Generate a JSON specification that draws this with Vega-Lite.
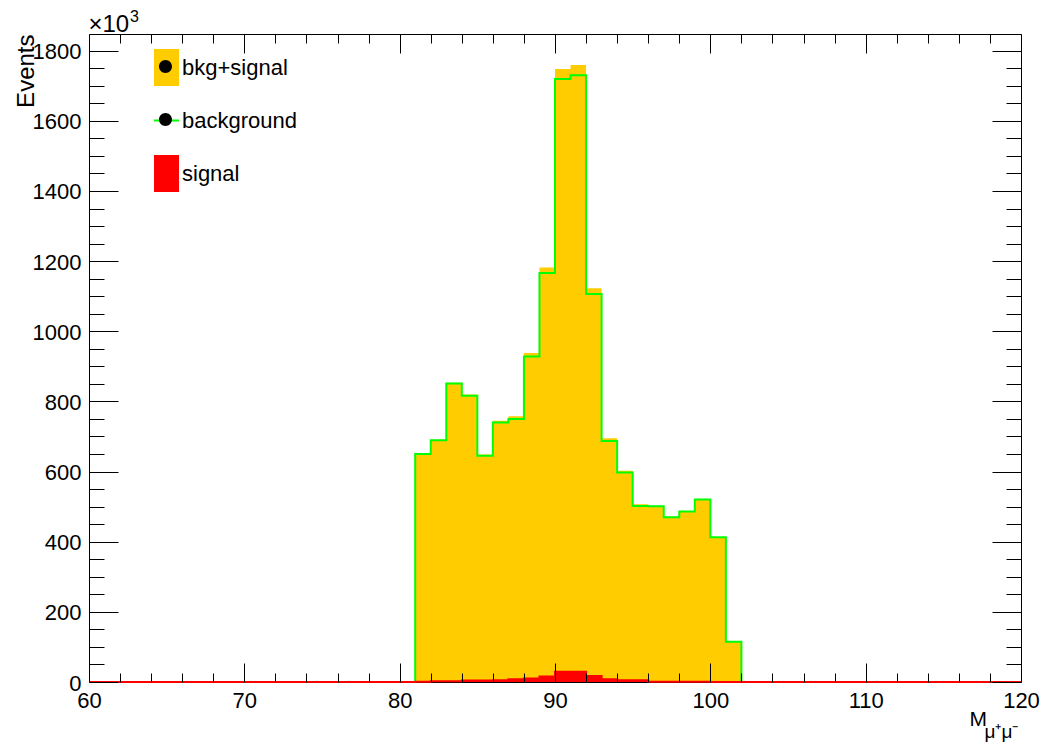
{
  "$schema": "https://vega.github.io/schema/vega-lite/v6.json",
  "width": 932,
  "height": 648,
  "autosize": {"type": "none"},
  "padding": {"left": 89, "top": 34, "right": 22, "bottom": 62},
  "background": "white",
  "config": {"view": {"stroke": "black", "strokeWidth": 1}, "font": "Liberation Sans"},
  "title": {"text": "3", "anchor": "start", "frame": "group", "orient": "top", "fontSize": 16, "font": "Liberation Sans", "fontWeight": "normal", "color": "black", "dx": 41, "dy": 26, "offset": 0, "baseline": "alphabetic"},
  "datasets": {
    "hist": [
      {"lo": 60, "bkg": 0, "sig": 0, "tot": 0}, {"lo": 61, "bkg": 0, "sig": 0, "tot": 0}, {"lo": 62, "bkg": 0, "sig": 0, "tot": 0}, {"lo": 63, "bkg": 0, "sig": 0, "tot": 0}, {"lo": 64, "bkg": 0, "sig": 0, "tot": 0},
      {"lo": 65, "bkg": 0, "sig": 0, "tot": 0}, {"lo": 66, "bkg": 0, "sig": 0, "tot": 0}, {"lo": 67, "bkg": 0, "sig": 0, "tot": 0}, {"lo": 68, "bkg": 0, "sig": 0, "tot": 0}, {"lo": 69, "bkg": 0, "sig": 0, "tot": 0},
      {"lo": 70, "bkg": 0, "sig": 0, "tot": 0}, {"lo": 71, "bkg": 0, "sig": 0, "tot": 0}, {"lo": 72, "bkg": 0, "sig": 0, "tot": 0}, {"lo": 73, "bkg": 0, "sig": 0, "tot": 0}, {"lo": 74, "bkg": 0, "sig": 0, "tot": 0},
      {"lo": 75, "bkg": 0, "sig": 0, "tot": 0}, {"lo": 76, "bkg": 0, "sig": 0, "tot": 0}, {"lo": 77, "bkg": 0, "sig": 0, "tot": 0}, {"lo": 78, "bkg": 0, "sig": 0, "tot": 0}, {"lo": 79, "bkg": 0, "sig": 0, "tot": 0},
      {"lo": 80, "bkg": 0, "sig": 0, "tot": 0},
      {"lo": 81, "bkg": 650, "sig": 1, "tot": 651},
      {"lo": 82, "bkg": 689, "sig": 2, "tot": 691},
      {"lo": 83, "bkg": 851, "sig": 2, "tot": 853},
      {"lo": 84, "bkg": 816, "sig": 4, "tot": 820},
      {"lo": 85, "bkg": 645, "sig": 4, "tot": 649},
      {"lo": 86, "bkg": 740, "sig": 5, "tot": 745},
      {"lo": 87, "bkg": 750, "sig": 8, "tot": 758},
      {"lo": 88, "bkg": 928, "sig": 10, "tot": 938},
      {"lo": 89, "bkg": 1166, "sig": 16, "tot": 1182},
      {"lo": 90, "bkg": 1719, "sig": 29, "tot": 1748},
      {"lo": 91, "bkg": 1730, "sig": 29, "tot": 1759},
      {"lo": 92, "bkg": 1106, "sig": 17, "tot": 1123},
      {"lo": 93, "bkg": 687, "sig": 8, "tot": 695},
      {"lo": 94, "bkg": 597, "sig": 5, "tot": 602},
      {"lo": 95, "bkg": 502, "sig": 5, "tot": 507},
      {"lo": 96, "bkg": 501, "sig": 1, "tot": 502},
      {"lo": 97, "bkg": 470, "sig": 1, "tot": 471},
      {"lo": 98, "bkg": 486, "sig": 1, "tot": 487},
      {"lo": 99, "bkg": 520, "sig": 1, "tot": 521},
      {"lo": 100, "bkg": 413, "sig": 0, "tot": 413},
      {"lo": 101, "bkg": 115, "sig": 0, "tot": 115},
      {"lo": 102, "bkg": 0, "sig": 0, "tot": 0}, {"lo": 103, "bkg": 0, "sig": 0, "tot": 0}, {"lo": 104, "bkg": 0, "sig": 0, "tot": 0}, {"lo": 105, "bkg": 0, "sig": 0, "tot": 0},
      {"lo": 106, "bkg": 0, "sig": 0, "tot": 0}, {"lo": 107, "bkg": 0, "sig": 0, "tot": 0}, {"lo": 108, "bkg": 0, "sig": 0, "tot": 0}, {"lo": 109, "bkg": 0, "sig": 0, "tot": 0},
      {"lo": 110, "bkg": 0, "sig": 0, "tot": 0}, {"lo": 111, "bkg": 0, "sig": 0, "tot": 0}, {"lo": 112, "bkg": 0, "sig": 0, "tot": 0}, {"lo": 113, "bkg": 0, "sig": 0, "tot": 0},
      {"lo": 114, "bkg": 0, "sig": 0, "tot": 0}, {"lo": 115, "bkg": 0, "sig": 0, "tot": 0}, {"lo": 116, "bkg": 0, "sig": 0, "tot": 0}, {"lo": 117, "bkg": 0, "sig": 0, "tot": 0},
      {"lo": 118, "bkg": 0, "sig": 0, "tot": 0}, {"lo": 119, "bkg": 0, "sig": 0, "tot": 0}, {"lo": 120, "bkg": 0, "sig": 0, "tot": 0}
    ],
    "leg": [{"series": "bkg+signal"}, {"series": "background"}, {"series": "signal"}],
    "dots": [{"dot": "p"}, {"dot": "q"}, {"dot": "r"}]
  },
  "resolve": {"axis": {"x": "independent", "y": "independent"}},
  "layer": [
    {
      "data": {"name": "hist"},
      "mark": {"type": "area", "interpolate": "step-after", "color": "#ffcc00", "opacity": 1},
      "encoding": {
        "x": {"field": "lo", "type": "quantitative", "scale": {"domain": [60, 120], "nice": false, "zero": false},
          "axis": {"orient": "bottom", "values": [60,62,64,66,68,70,72,74,76,78,80,82,84,86,88,90,92,94,96,98,100,102,104,106,108,110,112,114,116,118,120],
            "tickSize": {"condition": {"test": "datum.value % 10 === 0", "value": -19}, "value": -9},
            "tickColor": "black", "tickWidth": 1, "domain": false, "grid": false, "zindex": 1,
            "labelExpr": "datum.value % 10 === 0 ? datum.label : ''", "format": "d",
            "labelPadding": 27, "labelFontSize": 22, "labelFont": "Liberation Sans", "labelColor": "black",
            "labelFlush": false, "labelOverlap": false, "labelBound": false,
            "title": "M", "titleFont": "Liberation Sans", "titleFontSize": 21, "titleFontWeight": "normal", "titleColor": "black",
            "titleX": 880, "titleY": 43, "titleAlign": "left", "titleBaseline": "alphabetic", "titleAngle": 0}},
        "y": {"field": "tot", "type": "quantitative", "scale": {"domain": [0, 1847.6], "nice": false},
          "axis": {"orient": "left", "values": [0,50,100,150,200,250,300,350,400,450,500,550,600,650,700,750,800,850,900,950,1000,1050,1100,1150,1200,1250,1300,1350,1400,1450,1500,1550,1600,1650,1700,1750,1800],
            "tickSize": {"condition": {"test": "datum.value % 200 === 0", "value": -29}, "value": -15},
            "tickColor": "black", "tickWidth": 1, "domain": false, "grid": false, "zindex": 1,
            "labelExpr": "datum.value % 200 === 0 ? datum.label : ''", "format": "d",
            "labelPadding": 37, "labelFontSize": 22, "labelFont": "Liberation Sans", "labelColor": "black",
            "labelFlush": false, "labelOverlap": false, "labelBound": false, "labelOffset": 1,
            "title": "Events", "titleFont": "Liberation Sans", "titleFontSize": 24, "titleFontWeight": "normal", "titleColor": "black",
            "titleX": -56, "titleY": 0, "titleAngle": 270, "titleAlign": "right", "titleBaseline": "alphabetic"}}
      }
    },
    {
      "data": {"name": "hist"},
      "mark": {"type": "line", "interpolate": "step-after", "color": "#00ff00", "strokeWidth": 2},
      "encoding": {
        "x": {"field": "lo", "type": "quantitative", "scale": {"domain": [60, 120], "nice": false, "zero": false},
          "axis": {"orient": "top", "values": [60,62,64,66,68,70,72,74,76,78,80,82,84,86,88,90,92,94,96,98,100,102,104,106,108,110,112,114,116,118,120],
            "tickSize": {"condition": {"test": "datum.value % 10 === 0", "value": -19}, "value": -9},
            "tickColor": "black", "tickWidth": 1, "domain": false, "grid": false, "zindex": 1, "labels": false,
            "title": "μ⁺μ⁻", "titleFont": "Liberation Sans", "titleFontSize": 19, "titleFontWeight": "normal", "titleColor": "black",
            "titleX": 895, "titleY": 703, "titleAlign": "left", "titleBaseline": "alphabetic", "titleAngle": 0}},
        "y": {"field": "bkg", "type": "quantitative", "scale": {"domain": [0, 1847.6], "nice": false},
          "axis": {"orient": "right", "values": [0,50,100,150,200,250,300,350,400,450,500,550,600,650,700,750,800,850,900,950,1000,1050,1100,1150,1200,1250,1300,1350,1400,1450,1500,1550,1600,1650,1700,1750,1800],
            "tickSize": {"condition": {"test": "datum.value % 200 === 0", "value": -29}, "value": -15},
            "tickColor": "black", "tickWidth": 1, "domain": false, "grid": false, "zindex": 1, "labels": false,
            "title": "×10", "titleFont": "Liberation Sans", "titleFontSize": 24, "titleFontWeight": "normal", "titleColor": "black",
            "titleX": -933, "titleY": -3, "titleAngle": 0, "titleAlign": "left", "titleBaseline": "alphabetic"}}
      }
    },
    {
      "data": {"name": "hist"},
      "mark": {"type": "area", "interpolate": "step-after", "color": "#ff0000", "opacity": 1},
      "encoding": {
        "x": {"field": "lo", "type": "quantitative", "scale": {"domain": [60, 120], "nice": false, "zero": false}, "axis": null},
        "y": {"field": "sig", "type": "quantitative", "scale": {"domain": [0, 1847.6], "nice": false}, "axis": null}
      }
    },
    {
      "data": {"name": "hist"},
      "mark": {"type": "line", "interpolate": "step-after", "color": "#ff0000", "strokeWidth": 2},
      "encoding": {
        "x": {"field": "lo", "type": "quantitative", "scale": {"domain": [60, 120], "nice": false, "zero": false}, "axis": null},
        "y": {"field": "sig", "type": "quantitative", "scale": {"domain": [0, 1847.6], "nice": false}, "axis": null}
      }
    },
    {
      "data": {"name": "leg"},
      "mark": {"type": "point", "filled": true, "clip": true, "size": 1369, "strokeWidth": 2, "opacity": 1},
      "encoding": {
        "x": {"datum": 0, "type": "quantitative", "scale": {"domain": [60, 120], "nice": false, "zero": false}, "axis": null},
        "y": {"datum": 0, "type": "quantitative", "scale": {"domain": [0, 1847.6], "nice": false}, "axis": null},
        "fill": {"field": "series", "type": "nominal",
          "scale": {"domain": ["bkg+signal", "background", "signal"], "range": ["#ffcc00", "rgba(0,0,0,0)", "#ff0000"]},
          "legend": {"title": null, "orient": "none", "legendX": 58, "legendY": 14, "padding": 0, "rowPadding": 8, "labelOffset": -4, "labelFont": "Liberation Sans", "labelFontSize": 22, "labelColor": "black", "symbolSize": 1369, "symbolStrokeWidth": 2, "direction": "vertical"}},
        "stroke": {"field": "series", "type": "nominal",
          "scale": {"domain": ["bkg+signal", "background", "signal"], "range": ["rgba(0,0,0,0)", "#00ff00", "rgba(0,0,0,0)"]},
          "legend": {"title": null, "orient": "none", "legendX": 58, "legendY": 14, "padding": 0, "rowPadding": 8, "labelOffset": -4, "labelFont": "Liberation Sans", "labelFontSize": 22, "labelColor": "black", "symbolSize": 1369, "symbolStrokeWidth": 2, "direction": "vertical"}},
        "shape": {"field": "series", "type": "nominal",
          "scale": {"domain": ["bkg+signal", "background", "signal"], "range": ["M-0.676,-1L0.676,-1L0.676,1L-0.676,1Z", "M-0.676,0L0.676,0M-0.676,-1L-0.676,-1M0.676,1L0.676,1", "M-0.676,-1L0.676,-1L0.676,1L-0.676,1Z"]},
          "legend": {"title": null, "orient": "none", "legendX": 58, "legendY": 14, "padding": 0, "rowPadding": 8, "labelOffset": -4, "labelFont": "Liberation Sans", "labelFontSize": 22, "labelColor": "black", "symbolSize": 1369, "symbolStrokeWidth": 2, "direction": "vertical"}}
      }
    },
    {
      "data": {"name": "dots"},
      "mark": {"type": "point", "filled": true, "clip": true, "size": 1369, "opacity": 1},
      "encoding": {
        "x": {"datum": 0, "type": "quantitative", "scale": {"domain": [60, 120], "nice": false, "zero": false}, "axis": null},
        "y": {"datum": 0, "type": "quantitative", "scale": {"domain": [0, 1847.6], "nice": false}, "axis": null},
        "color": {"field": "dot", "type": "nominal",
          "scale": {"domain": ["p", "q", "r"], "range": ["#000000", "#000000", "rgba(0,0,0,0)"]},
          "legend": {"title": null, "orient": "none", "legendX": 58, "legendY": 14, "padding": 0, "rowPadding": 16, "labelOffset": 0, "labelFont": "Liberation Sans", "labelFontSize": 22, "labelOpacity": 0, "labelExpr": "''", "symbolSize": 1369, "symbolStrokeWidth": 0, "direction": "vertical",
            "symbolType": "M-0.351,0A0.351,0.351,0,1,0,0.351,0A0.351,0.351,0,1,0,-0.351,0ZM-0.676,-1L-0.676,-1M0.676,1L0.676,1"}}
      }
    }
  ]
}
